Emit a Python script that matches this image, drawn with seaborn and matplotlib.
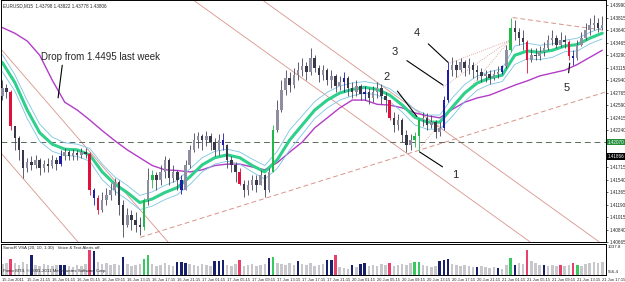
import matplotlib
matplotlib.use("Agg")
import matplotlib.pyplot as plt
import numpy as np
import seaborn as sns

# ---------------- data ----------------
time_labels = ["15 Jun 2011", "15 Jun 21:15", "16 Jun 01:15", "16 Jun 05:15", "16 Jun 09:15",
               "16 Jun 13:15", "16 Jun 17:15", "16 Jun 21:15", "17 Jun 01:15", "17 Jun 05:15",
               "17 Jun 09:15", "17 Jun 13:15", "17 Jun 17:15", "17 Jun 21:15", "20 Jun 01:15",
               "20 Jun 05:15", "20 Jun 09:15", "20 Jun 13:15", "20 Jun 17:15", "20 Jun 21:15",
               "21 Jun 01:15", "21 Jun 05:15", "21 Jun 09:15", "21 Jun 13:15", "21 Jun 17:15"]
label_every = 6

price_ticks = [1.43990, 1.43815, 1.43640, 1.43465, 1.43290, 1.43115, 1.42940, 1.42765,
               1.42590, 1.42415, 1.42240, 1.42065, 1.41890, 1.41715, 1.41540, 1.41365,
               1.41190, 1.41015, 1.40840, 1.40665]

first_open = 1.4272
close = [1.4283, 1.4277, 1.4230, 1.4213, 1.4196, 1.4171, 1.4179, 1.4175, 1.4182, 1.4171,
         1.4176, 1.4174, 1.4182, 1.4176, 1.4188, 1.4193, 1.4188, 1.4192, 1.4189, 1.4193,
         1.4190, 1.4140, 1.4129, 1.4112, 1.4126, 1.4133, 1.4140, 1.4151, 1.4119, 1.4091,
         1.4105, 1.4098, 1.4091, 1.4087, 1.4126, 1.4154, 1.4161, 1.4154, 1.4165, 1.4182,
         1.4157, 1.4165, 1.4154, 1.4140, 1.4175, 1.4196, 1.4210, 1.4216, 1.4210, 1.4216,
         1.4207, 1.4196, 1.4210, 1.4203, 1.4182, 1.4175, 1.4165, 1.4148, 1.4140, 1.4146,
         1.4154, 1.4147, 1.4160, 1.4140, 1.4165, 1.4224, 1.4252, 1.4280, 1.4297, 1.4287,
         1.4301, 1.4308, 1.4314, 1.4305, 1.4325, 1.4311, 1.4301, 1.4308, 1.4294, 1.4300,
         1.4286, 1.4291, 1.4297, 1.4283, 1.4277, 1.4286, 1.4274, 1.4277, 1.4269, 1.4277,
         1.4283, 1.4272, 1.4266, 1.4241, 1.4231, 1.4238, 1.4217, 1.4203, 1.4210, 1.4216,
         1.4238, 1.4241, 1.4231, 1.4235, 1.4221, 1.4227, 1.4266, 1.4308, 1.4316, 1.4308,
         1.4319, 1.4311, 1.4316, 1.4308, 1.4305, 1.4300, 1.4302, 1.4297, 1.4302, 1.4305,
         1.4314, 1.4336, 1.4367, 1.4361, 1.4353, 1.4347, 1.4322, 1.4330, 1.4328, 1.4333,
         1.4339, 1.4350, 1.4353, 1.4344, 1.4350, 1.4347, 1.4328, 1.4325, 1.4344, 1.4353,
         1.4364, 1.4371, 1.4375, 1.4367, 1.4372]
high = [1.4294, 1.4288, 1.4280, 1.4230, 1.4215, 1.4196, 1.4185, 1.4188, 1.4189, 1.4185,
        1.4182, 1.4185, 1.4189, 1.4186, 1.4196, 1.4199, 1.4196, 1.4197, 1.4196, 1.4199,
        1.4199, 1.4193, 1.4143, 1.4132, 1.4137, 1.4143, 1.4150, 1.4157, 1.4154, 1.4126,
        1.4115, 1.4112, 1.4109, 1.4101, 1.4129, 1.4171, 1.4168, 1.4165, 1.4175, 1.4188,
        1.4185, 1.4175, 1.4168, 1.4161, 1.4182, 1.4203, 1.4220, 1.4221, 1.4218, 1.4223,
        1.4220, 1.4213, 1.4218, 1.4220, 1.4204, 1.4188, 1.4179, 1.4171, 1.4154, 1.4154,
        1.4160, 1.4160, 1.4168, 1.4162, 1.4171, 1.4231, 1.4266, 1.4294, 1.4308, 1.4305,
        1.4311, 1.4319, 1.4325, 1.4319, 1.4339, 1.4329, 1.4316, 1.4316, 1.4311, 1.4308,
        1.4302, 1.4300, 1.4305, 1.4300, 1.4291, 1.4294, 1.4288, 1.4286, 1.4283, 1.4286,
        1.4291, 1.4288, 1.4277, 1.4266, 1.4249, 1.4246, 1.4241, 1.4224, 1.4218, 1.4221,
        1.4241, 1.4249, 1.4248, 1.4245, 1.4238, 1.4235, 1.4272, 1.4319, 1.4326, 1.4322,
        1.4325, 1.4322, 1.4325, 1.4319, 1.4316, 1.4311, 1.4308, 1.4308, 1.4308, 1.4314,
        1.4316, 1.4343, 1.4381, 1.4378, 1.4367, 1.4364, 1.4350, 1.4339, 1.4339, 1.4342,
        1.4347, 1.4358, 1.4364, 1.4358, 1.4361, 1.4358, 1.4350, 1.4336, 1.4350, 1.4361,
        1.4375, 1.4381, 1.4386, 1.4381, 1.4384]
low = [1.4266, 1.4269, 1.4224, 1.4196, 1.4182, 1.4157, 1.4165, 1.4168, 1.4171, 1.4160,
       1.4165, 1.4165, 1.4171, 1.4168, 1.4174, 1.4182, 1.4182, 1.4182, 1.4182, 1.4185,
       1.4185, 1.4133, 1.4119, 1.4106, 1.4109, 1.4119, 1.4126, 1.4133, 1.4105, 1.4074,
       1.4087, 1.4084, 1.4081, 1.4076, 1.4084, 1.4119, 1.4143, 1.4140, 1.4147, 1.4157,
       1.4146, 1.4151, 1.4140, 1.4134, 1.4140, 1.4171, 1.4193, 1.4199, 1.4196, 1.4202,
       1.4196, 1.4188, 1.4189, 1.4196, 1.4171, 1.4165, 1.4151, 1.4146, 1.4130, 1.4132,
       1.4140, 1.4137, 1.4146, 1.4130, 1.4137, 1.4165, 1.4221, 1.4249, 1.4273, 1.4277,
       1.4283, 1.4294, 1.4300, 1.4294, 1.4301, 1.4305, 1.4291, 1.4294, 1.4287, 1.4283,
       1.4277, 1.4280, 1.4277, 1.4272, 1.4269, 1.4272, 1.4266, 1.4266, 1.4260, 1.4263,
       1.4269, 1.4260, 1.4249, 1.4238, 1.4221, 1.4224, 1.4207, 1.4193, 1.4196, 1.4200,
       1.4193, 1.4230, 1.4224, 1.4227, 1.4213, 1.4216, 1.4224, 1.4263, 1.4300, 1.4298,
       1.4305, 1.4300, 1.4302, 1.4297, 1.4294, 1.4291, 1.4291, 1.4288, 1.4294, 1.4297,
       1.4302, 1.4311, 1.4333, 1.4350, 1.4344, 1.4336, 1.4304, 1.4319, 1.4322, 1.4322,
       1.4328, 1.4336, 1.4343, 1.4339, 1.4340, 1.4339, 1.4322, 1.4316, 1.4322, 1.4342,
       1.4350, 1.4358, 1.4364, 1.4361, 1.4364]
candle_red = [2, 21, 23, 57, 93, 126, 136]
candle_blue = [14, 22, 43, 53, 82, 87, 106, 107, 120, 137]
candle_green = [34, 36, 65, 99, 100, 122]

volume = [1100, 1200, 1600, 1200, 1000, 1300, 1100, 2000, 1000, 900,
          1100, 1000, 900, 1000, 1000, 1000, 900, 800, 1000, 900,
          1100, 2500, 2400, 1300, 1100, 1200, 1000, 1100, 1000, 1800,
          1100, 900, 1000, 1100, 1600, 2000, 1100, 900, 1000, 1200,
          1000, 900, 1300, 1300, 1200, 1100, 1000, 900, 1100, 1000,
          900, 1400, 1400, 1500, 1000, 900, 1100, 1500, 900, 1000,
          1100, 900, 1000, 1100, 1700, 1800, 1200, 1100, 1000, 1200,
          1000, 1400, 1100, 1000, 1200, 900, 1000, 1100, 1500, 1500,
          2000, 800, 700, 600, 1000, 800, 1100, 1200, 900, 1000,
          900, 1100, 1000, 1200, 900, 1000, 1100, 1000, 1200, 1300,
          1300, 1000, 900, 800, 900, 1400, 1500, 1600, 1100, 1000,
          900, 1000, 900, 800, 800, 900, 800, 700, 800, 700,
          600, 1000, 1700, 1000, 1200, 1100, 2500, 1400, 1200, 1000,
          1000, 900, 1000, 900, 1000, 900, 1000, 1200, 1000, 900,
          1100, 1200, 1300, 1200, 1300]
vol_red = [2, 21, 57, 80, 93, 126, 134, 137]
vol_blue = [7, 14, 15, 22, 29, 42, 43, 44, 51, 52, 53, 64, 71, 78, 79, 84, 86, 87,
            105, 106, 107, 114, 119, 123, 130]
vol_green = [34, 35, 65, 99, 100, 122, 138]

ma_index = list(range(0, 145, 3))
ma_mid = [1.4319, 1.4291, 1.4252, 1.4220, 1.4204, 1.4197, 1.4196, 1.4189, 1.4165, 1.4148,
          1.4136, 1.4122, 1.4127, 1.4136, 1.4143, 1.4158, 1.4175, 1.4185, 1.4189, 1.4185,
          1.4174, 1.4165, 1.4182, 1.4210, 1.4231, 1.4252, 1.4266, 1.4276, 1.4281, 1.4284,
          1.4281, 1.4273, 1.4259, 1.4242, 1.4235, 1.4235, 1.4256, 1.4276, 1.4290, 1.4297,
          1.4301, 1.4329, 1.4335, 1.4333, 1.4336, 1.4342, 1.4344, 1.4353, 1.4360]
ma_upper = [1.4330, 1.4302, 1.4265, 1.4232, 1.4214, 1.4206, 1.4204, 1.4198, 1.4176, 1.4158,
            1.4146, 1.4132, 1.4137, 1.4146, 1.4153, 1.4169, 1.4185, 1.4194, 1.4197, 1.4193,
            1.4183, 1.4174, 1.4194, 1.4224, 1.4244, 1.4264, 1.4277, 1.4286, 1.4290, 1.4292,
            1.4289, 1.4282, 1.4269, 1.4253, 1.4245, 1.4245, 1.4269, 1.4288, 1.4300, 1.4306,
            1.4310, 1.4342, 1.4346, 1.4343, 1.4345, 1.4350, 1.4353, 1.4361, 1.4368]
ma_lower = [1.4306, 1.4279, 1.4240, 1.4208, 1.4194, 1.4188, 1.4187, 1.4180, 1.4154, 1.4138,
            1.4126, 1.4112, 1.4117, 1.4126, 1.4133, 1.4147, 1.4165, 1.4176, 1.4180, 1.4176,
            1.4165, 1.4155, 1.4170, 1.4196, 1.4218, 1.4240, 1.4255, 1.4266, 1.4272, 1.4276,
            1.4273, 1.4264, 1.4249, 1.4231, 1.4225, 1.4225, 1.4243, 1.4264, 1.4280, 1.4288,
            1.4292, 1.4316, 1.4324, 1.4323, 1.4326, 1.4334, 1.4335, 1.4345, 1.4352]
ma_slow = [1.4368, 1.4360, 1.4349, 1.4329, 1.4294, 1.4263, 1.4252, 1.4238, 1.4223, 1.4209,
           1.4196, 1.4185, 1.4174, 1.4168, 1.4167, 1.4165, 1.4168, 1.4174, 1.4176, 1.4176,
           1.4172, 1.4168, 1.4178, 1.4193, 1.4207, 1.4227, 1.4241, 1.4255, 1.4266, 1.4266,
           1.4260, 1.4259, 1.4255, 1.4248, 1.4244, 1.4241, 1.4253, 1.4263, 1.4269, 1.4273,
           1.4280, 1.4287, 1.4293, 1.4300, 1.4304, 1.4308, 1.4316, 1.4326, 1.4336]

h_line_price = 1.42070
bid_price = 1.41866

# trend lines: ((bar, price), (bar, price))
channel_solid = [((-0.5, 1.4339), (40.3, 1.4063)),
                 ((-0.5, 1.4193), (18.7, 1.4063)),
                 ((46.0, 1.4406), (126.6, 1.4067)),
                 ((62.6, 1.4406), (143.2, 1.4067))]
channel_dashed = [((33.1, 1.4073), (144.6, 1.4277)),
                  ((122.5, 1.4382), (144.6, 1.4364))]
fan_dotted = [((100.2, 1.4199), (121.8, 1.4350)),
              ((105.8, 1.4284), (121.8, 1.4350)),
              ((107.4, 1.4318), (121.8, 1.4350))]

# annotations: (text, text position, pointed position)
wave_labels = [("1", (108.6, 1.4161), (100.2, 1.4193)),
               ("2", (92.3, 1.4298), (99.5, 1.4243)),
               ("3", (94.2, 1.4333), (105.8, 1.4287)),
               ("4", (99.5, 1.4360), (107.0, 1.4319)),
               ("5", (135.5, 1.4283), (136.2, 1.4318))]
drop_text = "Drop from 1.4495 last week"
drop_text_pos = (9.4, 1.4326)
drop_line = ((14.4, 1.4315), (13.4, 1.4269))

# ---------------- style ----------------
sns.set_style("white")
plt.rcParams["font.family"] = ["Liberation Sans", "DejaVu Sans"]

n = len(close)
idx = np.arange(n)
c = np.array(close)
o = np.array([first_open] + close[:-1])
h = np.array(high)
l = np.array(low)

fig = plt.figure(figsize=(6.25, 2.82), dpi=100)
ax = fig.add_axes([0.0016, 0.1418, 0.968, 0.8565])
axv = fig.add_axes([0.0016, 0.0248, 0.968, 0.110])

# channel lines
for (x0, y0), (x1, y1) in channel_solid:
    ax.plot([x0, x1], [y0, y1], color="#d8948a", lw=0.6, zorder=1)
for (x0, y0), (x1, y1) in channel_dashed:
    ax.plot([x0, x1], [y0, y1], color="#d8948a", lw=0.7, ls=(0, (5, 3)), zorder=1)
for (x0, y0), (x1, y1) in fan_dotted:
    ax.plot([x0, x1], [y0, y1], color="#d8948a", lw=0.6, ls=(0, (1, 1.5)), zorder=1)

ax.axhline(h_line_price, color="#5a6a5a", lw=0.7, ls=(0, (6, 4)), zorder=1)

# moving averages
sns.lineplot(x=ma_index, y=ma_slow, ax=ax, color="#b23cc8", lw=1.0, zorder=2)
sns.lineplot(x=ma_index, y=ma_upper, ax=ax, color="#7cc4e4", lw=0.6, zorder=2)
sns.lineplot(x=ma_index, y=ma_lower, ax=ax, color="#7cc4e4", lw=0.6, zorder=2)
sns.lineplot(x=ma_index, y=ma_mid, ax=ax, color="#2fcf8c", lw=2.2, zorder=2)

# candles
body_col = np.where(c >= o, "#8e8ea0", "#383848").astype(object)
wick_col = np.array(["#44445a"] * n, dtype=object)
for i in candle_red:
    body_col[i] = "#e0103a"; wick_col[i] = "#e0103a"
for i in candle_blue:
    body_col[i] = "#1c1ca8"; wick_col[i] = "#1c1ca8"
for i in candle_green:
    body_col[i] = "#22b84a"; wick_col[i] = "#22b84a"
ax.vlines(idx, l, h, colors=list(wick_col), lw=0.6, zorder=3)
ax.bar(idx, np.maximum(np.abs(c - o), 0.00005), bottom=np.minimum(o, c), width=0.6,
       color=list(body_col), linewidth=0, zorder=4)

# annotations
for txt, tpos, ppos in wave_labels:
    ax.annotate(txt, xy=ppos, xytext=tpos, fontsize=8, ha="center", va="center",
                arrowprops=dict(arrowstyle="-", color="black", lw=0.8, shrinkA=5, shrinkB=0),
                zorder=6)
ax.text(drop_text_pos[0], drop_text_pos[1], drop_text, fontsize=7, ha="left", va="center",
        zorder=6)
ax.plot([drop_line[0][0], drop_line[1][0]], [drop_line[0][1], drop_line[1][1]],
        color="black", lw=0.8, zorder=6)

ax.text(0.004, 0.988, "EURUSD,M15  1.43798 1.43822 1.43778 1.43806", transform=ax.transAxes,
        fontsize=3.3, ha="left", va="top")

ax.set_xlim(-0.3, 144.9)
ax.set_ylim(1.40672, 1.44060)
ax.yaxis.tick_right()
ax.set_yticks(price_ticks)
covered = {1.42065, 1.41890}
ax.set_yticklabels(["" if v in covered else f"{v:.5f}" for v in price_ticks])
ax.tick_params(axis="y", labelsize=3.3, length=1.5, pad=0.8, width=0.5)
ax.set_xticks([])
ax.set_xlabel("")
ax.set_ylabel("")
for s in ax.spines.values():
    s.set_color("black"); s.set_linewidth(0.7)

ytr = ax.get_yaxis_transform()
ax.text(1.003, h_line_price, f"{h_line_price:.5f}", transform=ytr, fontsize=3.3, color="white",
        ha="left", va="center", bbox=dict(boxstyle="square,pad=0.2", fc="#1f8f3a", ec="none"),
        clip_on=False, zorder=7)
ax.text(1.003, bid_price, f"{bid_price:.5f}", transform=ytr, fontsize=3.3, color="white",
        ha="left", va="center", bbox=dict(boxstyle="square,pad=0.2", fc="black", ec="none"),
        clip_on=False, zorder=7)

# volume panel
vcat = np.array(["n"] * n, dtype=object)
for i in vol_red:
    vcat[i] = "r"
for i in vol_blue:
    vcat[i] = "b"
for i in vol_green:
    vcat[i] = "g"
sns.barplot(x=idx, y=volume, hue=list(vcat), palette={"n": "#c8c8cc", "r": "#e8406a",
            "b": "#18206e", "g": "#38c860"}, dodge=False, native_scale=True, width=0.6,
            legend=False, ax=axv, linewidth=0, saturation=1)
axv.set_xlim(-0.3, 144.9)
axv.set_ylim(0, 3100)
axv.set_yticks([])
axv.set_ylabel("")
ticks = [k * label_every for k in range(len(time_labels))]
axv.set_xticks(ticks)
axv.set_xticklabels(time_labels, ha="left")
axv.tick_params(axis="x", labelsize=2.9, length=1.5, pad=0.5, width=0.5)
for s in axv.spines.values():
    s.set_color("black"); s.set_linewidth(0.7)
axv.text(0.004, 0.93, "SonicR VSA (20, 10, 1:30)   Voice & Text Alerts off.", transform=axv.transAxes,
         fontsize=3.2, ha="left", va="top")
axv.text(0.004, 0.06, "Forex MT4, \u00a9 2001-2011 MetaQuotes Software Corp.", transform=axv.transAxes,
         fontsize=3.2, ha="left", va="bottom")
axv.text(1.003, 0.97, "1037.8", transform=axv.transAxes, fontsize=3.2, ha="left", va="top")
axv.text(1.003, 0.03, "556.4", transform=axv.transAxes, fontsize=3.2, ha="left", va="bottom")

fig.savefig("out.png", dpi=100)
